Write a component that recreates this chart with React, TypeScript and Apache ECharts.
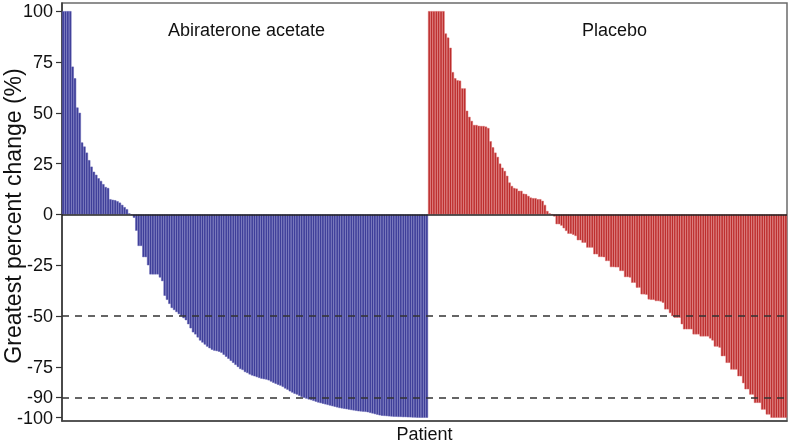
import React, { useEffect, useRef } from "react";
import * as echarts from "echarts";

// Greatest percent change per patient, sorted
const abirateroneValues: number[] = [
  100, 100, 100, 100, 72.7, 67, 52.6, 50, 35.4, 33.4,
  30.4, 26.7, 23.5, 21, 19.5, 17.8, 16.5, 14.9, 13.5, 13,
  7.5, 7.2, 7, 6.5, 5.8, 4.7, 3.6, 2.6, 0.5, -0.3,
  -1.6, -8, -15.5, -15.5, -21, -21, -25, -29.5, -29.5, -29.5,
  -29.5, -31, -32.8, -40, -42, -44, -46, -47, -48, -49,
  -50, -51, -52, -54, -56, -58, -59, -60.5, -62, -63,
  -64, -65, -65.8, -66.5, -67, -67.2, -67.5, -68, -69, -70,
  -71, -72, -73, -74, -75, -76, -76.5, -77.5, -78, -78.7,
  -79.2, -79.6, -80, -80.4, -80.8, -81, -81.2, -81.6, -82.2, -82.8,
  -83.3, -83.8, -84.2, -84.8, -85.6, -86.2, -87, -87.6, -88.2, -88.6,
  -89.2, -89.8, -90.2, -90.6, -91, -91.3, -91.7, -92.1, -92.5, -92.8,
  -93.1, -93.4, -93.7, -94, -94.3, -94.6, -94.9, -95.2, -95.4, -95.6,
  -95.8, -96, -96.2, -96.4, -96.6, -96.8, -96.9, -97, -97.1, -97.3,
  -97.6, -97.9, -98.2, -98.5, -98.8, -99, -99.1, -99.2, -99.3, -99.4,
  -99.5, -99.5, -99.6, -99.6, -99.7, -99.7, -99.8, -99.8, -99.9, -99.9,
  -100, -100, -100, -100, -100,
];

const placeboValues: number[] = [
  100, 100, 100, 100, 100, 100, 100, 89, 87, 82,
  70, 67, 66, 65.8, 62, 62, 51, 48, 46, 44,
  44, 43.6, 43.5, 43.5, 43.2, 42.5, 36, 33, 30.4, 28.3,
  25, 23, 21.4, 19, 15.7, 14, 13, 12.7, 11.6, 11.6,
  10.2, 10, 9.1, 8.3, 8, 8, 7.5, 7.5, 6.7, 4.7,
  1.7, 0.5, 0, -1, -4.8, -4.8, -5.5, -6.8, -8.1, -9.5,
  -9.5, -10, -10.6, -12.7, -12.7, -13.9, -13.9, -16.3, -16.3, -16.3,
  -19.6, -19.6, -20.9, -20.9, -21, -22.9, -22.9, -25.9, -25.9, -26,
  -26, -27.8, -27.8, -30.8, -30.8, -31, -33.6, -33.6, -36, -36,
  -39.3, -39.3, -39.5, -41.8, -42, -42, -42.6, -42.6, -42.8, -43.4,
  -46.7, -46.7, -48.5, -50, -50.8, -50.8, -50.8, -54, -56.5, -56.5,
  -56.5, -56.5, -59, -59, -59, -60, -60, -60, -60, -61,
  -62, -65, -65, -65.5, -69.7, -69.7, -73, -73, -76.3, -76.3,
  -76.3, -79.6, -79.6, -83, -86, -86, -88.6, -88.6, -92.7, -92.7,
  -92.7, -96, -96, -98.4, -98.4, -100, -100, -100, -100, -100,
  -100, -100,
];

const yTickValues: number[] = [100, 75, 50, 25, 0, -25, -50, -75, -90, -100];
const referenceLines: number[] = [-50, -90];
const panelLabels: string[] = ["Abiraterone acetate", "Placebo"];
const yAxisTitle = "Greatest percent change (%)";
const xAxisTitle = "Patient";

const FONT = "'Liberation Sans', Arial, Helvetica, sans-serif";

export default function App() {
  const ref = useRef<HTMLDivElement>(null);

  useEffect(() => {
    if (!ref.current) return;
    const chart = echarts.init(ref.current, undefined, { renderer: "svg" });

    const categories = [...abirateroneValues, ...placeboValues].map((_, i) => String(i + 1));
    const blueData = [...abirateroneValues, ...placeboValues.map(() => "-")];
    const redData = [...abirateroneValues.map(() => "-"), ...placeboValues];

    chart.setOption({
      animation: false,
      grid: {
        left: 62,
        right: 4,
        top: 3,
        bottom: 23,
        containLabel: false,
        outerBoundsMode: "none",
        show: true,
        borderColor: "#6b6b6b",
        borderWidth: 1.5,
        backgroundColor: "transparent",
      },
      xAxis: {
        type: "category",
        data: categories,
        boundaryGap: true,
        axisLine: { onZero: false, lineStyle: { color: "#444", width: 1.5 } },
        axisTick: { show: false },
        axisLabel: { show: false },
        splitLine: { show: false },
        name: xAxisTitle,
        nameLocation: "middle",
        nameGap: 4,
        nameTextStyle: {
          fontFamily: FONT,
          fontSize: 18,
          color: "#111",
          verticalAlign: "top",
        },
      },
      yAxis: {
        type: "value",
        min: -101.6,
        max: 104,
        axisLine: { show: true, lineStyle: { color: "#333", width: 1.5 } },
        axisTick: {
          show: true,
          length: 6,
          customValues: yTickValues,
          lineStyle: { color: "#333", width: 1.2 },
        },
        axisLabel: {
          show: true,
          customValues: yTickValues,
          margin: 9,
          fontFamily: FONT,
          fontSize: 18,
          color: "#111",
        },
        splitLine: { show: false },
      },
      graphic: [
        {
          type: "text",
          left: 168,
          top: 21,
          style: { text: panelLabels[0], fontFamily: FONT, fontSize: 18, fill: "#111" },
        },
        {
          type: "text",
          left: 582,
          top: 21,
          style: { text: panelLabels[1], fontFamily: FONT, fontSize: 18, fill: "#111" },
        },
        {
          type: "text",
          x: 13,
          y: 216,
          rotation: Math.PI / 2,
          style: {
            text: yAxisTitle,
            fontFamily: FONT,
            fontSize: 23,
            fill: "#111",
            align: "center",
            verticalAlign: "middle",
          },
        },
      ],
      series: [
        {
          name: panelLabels[0],
          type: "bar",
          data: blueData,
          barCategoryGap: "0%",
          barGap: "-100%",
          itemStyle: { color: "#3c3c97", borderColor: "#6060b2", borderWidth: 0.5 },
          markLine: {
            silent: true,
            symbol: "none",
            label: { show: false },
            lineStyle: { color: "#222", width: 1.5, type: "solid" },
            data: [{ yAxis: 0 }],
          },
        },
        {
          name: panelLabels[1],
          type: "bar",
          data: redData,
          barCategoryGap: "0%",
          barGap: "-100%",
          itemStyle: { color: "#bb2a2a", borderColor: "#d86a6a", borderWidth: 0.5 },
          markLine: {
            silent: true,
            symbol: "none",
            label: { show: false },
            lineStyle: { color: "#333", width: 1.5, type: [7, 6] },
            data: referenceLines.map((v) => ({ yAxis: v })),
          },
        },
      ],
    });

    return () => chart.dispose();
  }, []);

  return (
    <div
      ref={ref}
      style={{ position: "fixed", left: 0, top: 0, width: 791, height: 444 }}
    />
  );
}
